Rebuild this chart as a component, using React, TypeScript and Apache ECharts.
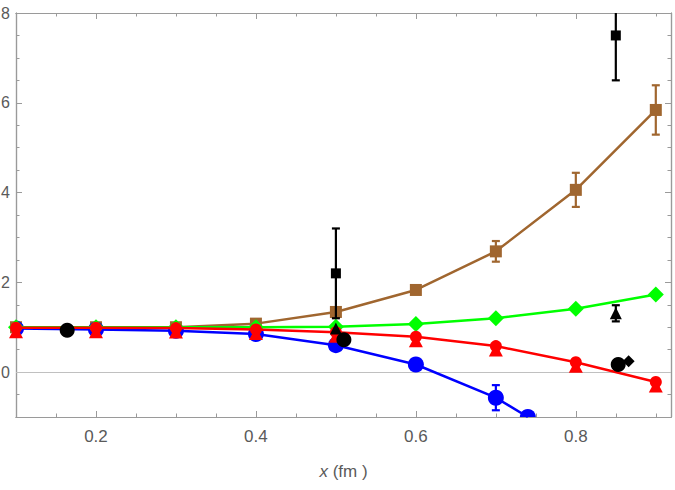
import React, { useEffect, useRef } from "react";
import * as echarts from "echarts";

const xs = [0.1, 0.2, 0.3, 0.4, 0.5, 0.6, 0.7, 0.8, 0.9];
const brownY = [1.0, 1.0, 1.0, 1.08, 1.34, 1.83, 2.69, 4.06, 5.84];
const brownErr = [0, 0, 0, 0.06, 0, 0, 0.23, 0.38, 0.55];
const greenY = [1.0, 1.0, 1.0, 1.0, 1.01, 1.07, 1.2, 1.41, 1.73];
const redY = [0.99, 0.99, 0.98, 0.95, 0.89, 0.79, 0.58, 0.22, -0.22];
const blueX = [0.1, 0.2, 0.3, 0.4, 0.5, 0.6, 0.7, 0.74];
const blueY = [0.97, 0.95, 0.92, 0.85, 0.6, 0.17, -0.57, -1.0];
const blueErr = [0, 0, 0, 0, 0, 0, 0.28, 0];

const blackSquares = [[0.5, 2.2], [0.85, 7.5]];
const blackSquareErr = [1.0, 1.0];
const blackTriangles = [[0.5, 0.97], [0.85, 1.31]];
const blackTriangleErr = [0, 0.18];
const blackCircles = [[0.164, 0.93], [0.51, 0.72], [0.853, 0.17]];
const blackDiamonds = [[0.866, 0.24]];

const xMajor = [0.2, 0.4, 0.6, 0.8];
const xMinor = [0.15, 0.25, 0.3, 0.35, 0.45, 0.5, 0.55, 0.65, 0.7, 0.75, 0.85, 0.9];
const yMajor = [0, 2, 4, 6, 8];
const yMinor = [-0.5, 0.5, 1, 1.5, 2.5, 3, 3.5, 4.5, 5, 5.5, 6.5, 7, 7.5];

const BROWN = "#a0662f";
const GREEN = "#00ff00";
const RED = "#ff0000";
const BLUE = "#0000ff";
const BLACK = "#000000";
const FRAME = "#9a9a9a";
const LABEL = "#5a5a5a";
const FONT = "'Liberation Sans', Arial, sans-serif";

function errData(px: number[], py: number[], pe: number[]) {
  const out: number[][] = [];
  px.forEach((x, i) => {
    if (pe[i] > 0) out.push([x, py[i] - pe[i], py[i] + pe[i]]);
  });
  return out;
}

function errSeries(data: number[][], color: string, z: number) {
  return {
    type: "custom",
    clip: true,
    z,
    silent: true,
    data,
    renderItem: (params: any, api: any) => {
      const x = api.value(0);
      const p1 = api.coord([x, api.value(1)]);
      const p2 = api.coord([x, api.value(2)]);
      const w = 4;
      const st = { stroke: color, lineWidth: 2.2 };
      return {
        type: "group",
        children: [
          { type: "line", shape: { x1: p1[0], y1: p1[1], x2: p2[0], y2: p2[1] }, style: st },
          { type: "line", shape: { x1: p1[0] - w, y1: p1[1], x2: p1[0] + w, y2: p1[1] }, style: st },
          { type: "line", shape: { x1: p2[0] - w, y1: p2[1], x2: p2[0] + w, y2: p2[1] }, style: st },
        ],
      };
    },
  };
}

function axisX(pos: string, values: number[], len: number, labels: boolean, extra: any = {}) {
  return {
    type: "value",
    position: pos,
    min: 0.1,
    max: 0.919,
    axisLine: { show: true, onZero: false, lineStyle: { color: FRAME, width: 1.2 } },
    axisTick: { show: true, inside: true, length: len, customValues: values, lineStyle: { color: FRAME, width: 1 } },
    axisLabel: labels
      ? { show: true, customValues: xMajor, color: LABEL, fontSize: 17, fontFamily: FONT, margin: 11, formatter: (v: number) => v.toFixed(1) }
      : { show: false },
    splitLine: { show: false },
    ...extra,
  };
}

function axisY(pos: string, values: number[], len: number, labels: boolean) {
  return {
    type: "value",
    position: pos,
    min: -1,
    max: 8,
    axisLine: { show: true, onZero: false, lineStyle: { color: FRAME, width: 1.2 } },
    axisTick: { show: true, inside: true, length: len, customValues: values, lineStyle: { color: FRAME, width: 1 } },
    axisLabel: labels
      ? { show: true, customValues: yMajor, color: LABEL, fontSize: 16, fontFamily: FONT, margin: 6, formatter: (v: number) => String(v) }
      : { show: false },
    splitLine: { show: false },
  };
}

export default function App() {
  const ref = useRef<HTMLDivElement>(null);
  useEffect(() => {
    if (!ref.current) return;
    const chart = echarts.init(ref.current, null, { renderer: "svg" });
    const pts = (px: number[], py: number[]) => px.map((x, i) => [x, py[i]]);
    const option: any = {
      animation: false,
      backgroundColor: "#ffffff",
      grid: { left: 16, right: 4, top: 13, bottom: 73, containLabel: false, outerBoundsMode: "none" },
      xAxis: [
        axisX("bottom", xMajor, 6, true, {
          name: "{i|x} (fm )",
          nameLocation: "middle",
          nameGap: 46,
          nameTextStyle: {
            color: LABEL,
            fontSize: 17,
            fontFamily: FONT,
            rich: { i: { fontStyle: "italic", fontSize: 17, fontFamily: FONT, color: LABEL } },
          },
        }),
        axisX("bottom", xMinor, 3.5, false),
        axisX("top", xMajor, 6, false),
        axisX("top", xMinor, 3.5, false),
      ],
      yAxis: [
        axisY("left", yMajor, 6, true),
        axisY("left", yMinor, 3.5, false),
        axisY("right", yMajor, 6, false),
        axisY("right", yMinor, 3.5, false),
      ],
      series: [
        {
          type: "line",
          data: [],
          silent: true,
          markLine: {
            silent: true,
            symbol: "none",
            z: 1,
            label: { show: false },
            lineStyle: { color: "#c0c0c0", width: 1, type: "solid" },
            data: [{ yAxis: 0 }],
          },
        },
        {
          type: "line",
          name: "brown",
          data: pts(xs, brownY),
          z: 3,
          clip: true,
          symbol: "rect",
          symbolSize: 12,
          itemStyle: { color: BROWN },
          lineStyle: { color: BROWN, width: 2.5 },
        },
        errSeries(errData(xs, brownY, brownErr), BROWN, 3),
        {
          type: "line",
          name: "blue",
          data: pts(blueX, blueY),
          z: 4,
          clip: true,
          showSymbol: false,
          lineStyle: { color: BLUE, width: 2.5 },
        },
        {
          type: "custom",
          clip: true,
          z: 4,
          silent: true,
          data: pts(blueX, blueY),
          renderItem: (params: any, api: any) => {
            const p = api.coord([api.value(0), api.value(1)]);
            return { type: "circle", shape: { cx: p[0], cy: p[1], r: 8 }, style: { fill: BLUE } };
          },
        },
        errSeries(errData(blueX, blueY, blueErr), BLUE, 4),
        {
          type: "line",
          name: "green",
          data: pts(xs, greenY),
          z: 5,
          clip: true,
          symbol: "diamond",
          symbolSize: 16,
          itemStyle: { color: GREEN },
          lineStyle: { color: GREEN, width: 2.5 },
        },
        {
          type: "line",
          name: "red",
          data: pts(xs, redY),
          z: 6,
          clip: true,
          symbol: "circle",
          symbolSize: 12,
          itemStyle: { color: RED },
          lineStyle: { color: RED, width: 2.5 },
        },
        {
          type: "scatter",
          name: "red-tri",
          data: pts(xs, redY),
          z: 6,
          symbol: "triangle",
          symbolSize: [14, 13],
          symbolOffset: [0, 4],
          itemStyle: { color: RED, opacity: 1 },
        },
        errSeries(
          errData(blackSquares.map((d) => d[0]), blackSquares.map((d) => d[1]), blackSquareErr),
          BLACK,
          7
        ),
        errSeries(
          errData(blackTriangles.map((d) => d[0]), blackTriangles.map((d) => d[1]), blackTriangleErr),
          BLACK,
          7
        ),
        {
          type: "scatter",
          data: blackSquares,
          z: 7,
          symbol: "rect",
          symbolSize: 10,
          itemStyle: { color: BLACK, opacity: 1 },
        },
        {
          type: "scatter",
          data: blackTriangles,
          z: 7,
          symbol: "triangle",
          symbolSize: 12,
          itemStyle: { color: BLACK, opacity: 1 },
        },
        {
          type: "scatter",
          data: blackCircles,
          z: 7,
          symbol: "circle",
          symbolSize: 15,
          itemStyle: { color: BLACK, opacity: 1 },
        },
        {
          type: "scatter",
          data: blackDiamonds,
          z: 7,
          symbol: "diamond",
          symbolSize: 12,
          itemStyle: { color: BLACK, opacity: 1 },
        },
      ],
    };
    chart.setOption(option);
    return () => chart.dispose();
  }, []);
  return <div ref={ref} style={{ width: 675, height: 490, position: "absolute", left: 0, top: 0 }} />;
}
